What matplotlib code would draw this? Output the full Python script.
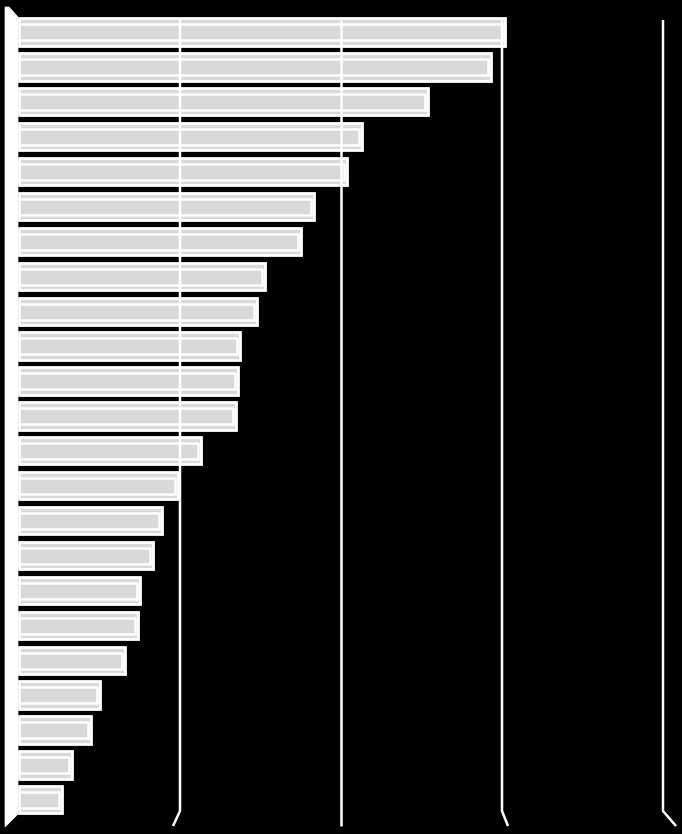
import numpy as np
import matplotlib
matplotlib.use("Agg")
import matplotlib.pyplot as plt
from matplotlib.patches import Polygon

# values (one gridline step = 1 unit)
values = [3.02, 2.93, 2.54, 2.13, 2.04, 1.83, 1.75, 1.53, 1.48, 1.37, 1.36, 1.35,
          1.13, 0.99, 0.89, 0.83, 0.75, 0.74, 0.66, 0.50, 0.45, 0.33, 0.27]
grid_ticks = [1, 2, 3, 4]

W, H = 682, 834
fig = plt.figure(figsize=(W / 100, H / 100), dpi=100)
fig.patch.set_facecolor("black")
ax = fig.add_axes([0, 0, 1, 1])
ax.set_facecolor("black")

# pixel layout
px_unit = 161.0
x0_px = 19.0
y0_px = 32.0
row_px = 34.9
xmin = -x0_px / px_unit
ax.set_xlim(xmin, xmin + W / px_unit)
ax.set_ylim((H - y0_px) / row_px, -y0_px / row_px)

def dx(px):
    return px / px_unit

def dy(px):
    return (px - y0_px) / row_px

# gridlines with a little perspective kink at the floor
kinks = {1: -7, 2: 0, 3: 6, 4: 13}
for t in grid_ticks:
    k = kinks[t]
    bend = 811 if k != 0 else 826
    xs = [t, t, t + dx(k)]
    ys = [dy(20), dy(bend), dy(826)]
    ax.plot(xs, ys, color="white", lw=1.8, solid_capstyle="butt", zorder=4)

# left wall
wall = Polygon([(dx(-14), dy(7)), (dx(-10), dy(7)), (dx(-1), dy(17)),
                (dx(-1), dy(814)), (dx(-14), dy(827))],
               closed=True, facecolor="white", edgecolor="white", lw=0.5, zorder=5)
ax.add_patch(wall)

y = np.arange(len(values))
ax.barh(y, values, height=0.78, left=0, color="#d9d9d9", edgecolor="white",
        linewidth=2.0, zorder=2)
# inner bevel line for the 3d look
for yi, v in zip(y, values):
    ax.plot([0, v - dx(3), v - dx(3)], [yi - 0.22, yi - 0.22, yi + 0.22],
            color="white", lw=1.8, zorder=2.5)
    ax.plot([0, v - dx(3)], [yi + 0.24, yi + 0.24], color="white", lw=1.8, zorder=2.5)

ax.axis("off")
fig.savefig("out.png", dpi=100, facecolor="black")
